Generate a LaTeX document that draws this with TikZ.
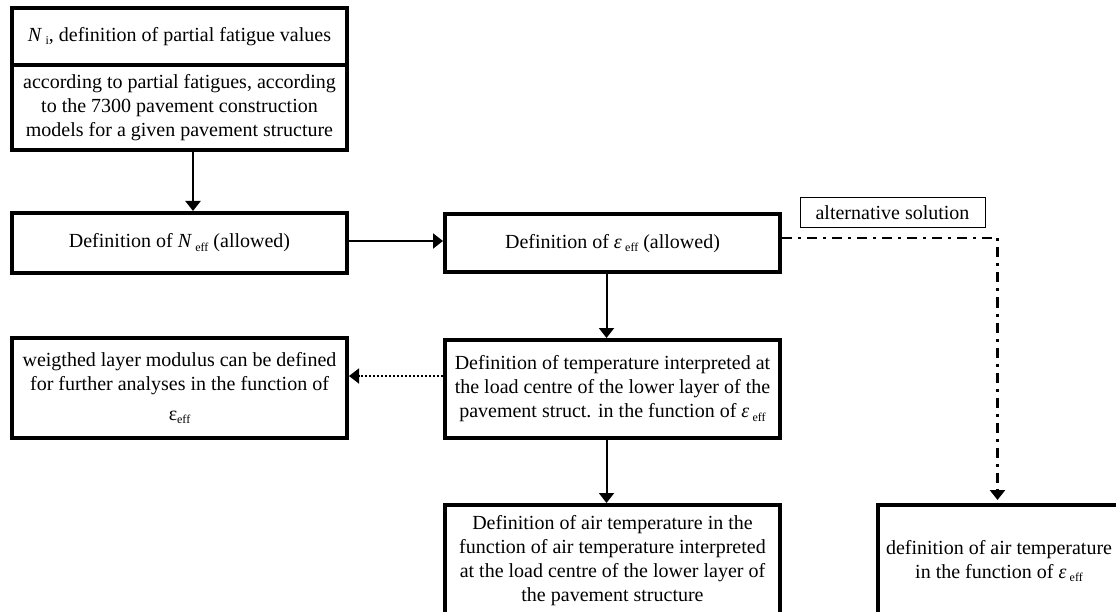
\documentclass[tikz,border=0pt]{standalone}
\usepackage{fontspec}
\setmainfont{Liberation Serif}
\usetikzlibrary{arrows.meta}
\newcommand\subx[1]{\raisebox{-0.35ex}{\fontsize{12}{12}\selectfont #1}}
\tikzset{
  box/.style={draw, line width=4pt, rectangle, inner sep=0pt, minimum width=335pt,
    align=center, font=\fontsize{20}{24}\selectfont},
  altbox/.style={draw, line width=1pt, rectangle, inner sep=0pt, minimum width=185pt,
    minimum height=30pt, align=center, font=\fontsize{20}{24}\selectfont},
  arr/.style={line width=2pt, -{Triangle[width=15pt,length=10pt]}},
  dotarr/.style={line width=1.6pt, dash pattern=on 1.6pt off 2.4pt, -{Triangle[width=15pt,length=10pt]}},
  dasharr/.style={line width=2.5pt, dash pattern=on 10pt off 6pt on 3pt off 6pt,
    -{Triangle[width=15pt,length=10pt]}, shorten >=3pt},
}
\begin{document}
\begin{tikzpicture}[x=1pt,y=-1pt]
\useasboundingbox (0,0) rectangle (1116,612);
\clip (0,0) rectangle (1116,612);
\fill[white] (0,0) rectangle (1116,612);

\node[box, minimum height=57pt] (topA) at (179.5,36.5)
  {\textit{N}\,\subx{i}, definition of partial fatigue values};
\node[box, minimum height=85pt] (topB) at (179.5,107.5)
  {according to partial fatigues, according\\ to the 7300 pavement construction\\ models for a given pavement structure};
\node[box, minimum height=60pt] (b2) at (179.5,243)
  {Definition of \textit{N}\,\subx{eff} (allowed)};
\node[box, minimum height=58pt] (b3) at (612.5,243.5)
  {Definition of \textit{ε}\,\subx{eff} (allowed)};
\node[altbox] (alt) at (892.5,213) {alternative solution};
\node[box, minimum height=100pt] (b4) at (179.5,388)
  {weigthed layer modulus can be defined\\ for further analyses in the function of\\[6pt] ε\subx{eff}};
\node[box, minimum height=98pt] (b5) at (612.5,389)
  {Definition of temperature interpreted at\\ the load centre of the lower layer of the\\ pavement struct. in the function of \textit{ε}\,\subx{eff}};
\node[box, minimum height=112pt] (b6) at (612.5,561)
  {Definition of air temperature in the\\ function of air temperature interpreted\\ at the load centre of the lower layer of\\ the pavement structure};
\node[box, minimum width=242pt, minimum height=112pt] (b7) at (999,561)
  {definition of air temperature\\ in the function of \textit{ε}\,\subx{eff}};

\coordinate (c1) at (193,0);
\coordinate (c2) at (606.5,0);
\coordinate (c3) at (997.5,0);
\coordinate (r1) at (0,241);
\coordinate (r2) at (0,238);
\coordinate (r3) at (0,376);

\draw[arr] (topB.south -| c1) -- (b2.north -| c1);
\draw[arr] (b2.east |- r1) -- (b3.west |- r1);
\draw[arr] (b3.south -| c2) -- (b5.north -| c2);
\draw[arr] (b5.south -| c2) -- (b6.north -| c2);
\draw[dotarr] (b5.west |- r3) -- (b4.east |- r3);
\draw[dasharr] (b3.east |- r2) -| (b7.north -| c3);
\end{tikzpicture}
\end{document}
